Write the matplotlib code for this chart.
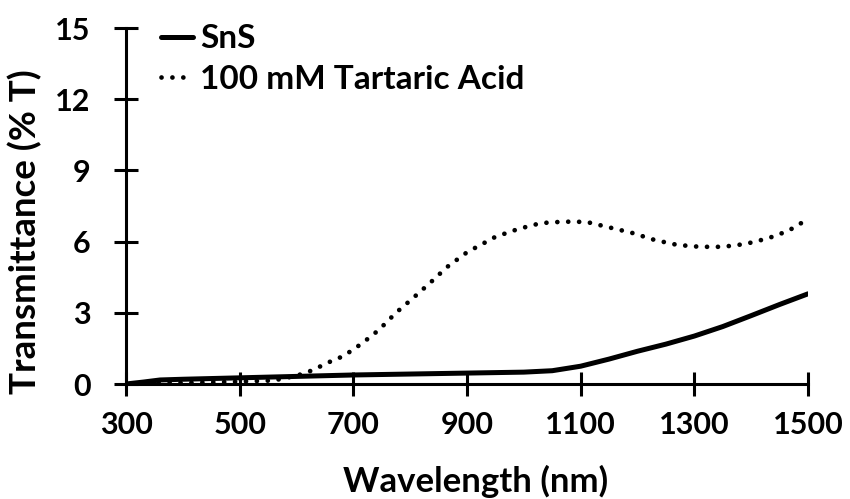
import matplotlib
matplotlib.use("Agg")
import matplotlib.pyplot as plt

plt.rcParams['font.family'] = ['Lato', 'DejaVu Sans']
plt.rcParams['font.weight'] = 'bold'

# SnS film, no additive
wl_sns = [300, 330, 360, 400, 500, 600, 700, 800, 900, 1000, 1050, 1100,
          1150, 1200, 1250, 1300, 1350, 1400, 1450, 1500]
t_sns = [0.0, 0.08, 0.17, 0.2, 0.26, 0.32, 0.38, 0.42, 0.46, 0.5, 0.56, 0.75,
         1.05, 1.38, 1.68, 2.02, 2.42, 2.88, 3.35, 3.8]

# SnS grown with 100 mM tartaric acid
wl_ta = [300, 400, 500, 560, 600, 620, 640, 660, 680, 700, 720, 745, 775,
         805, 835, 865, 900, 950, 990, 1030, 1070, 1110, 1150, 1190, 1230,
         1270, 1310, 1350, 1390, 1430, 1465, 1500]
t_ta = [0.0, 0.05, 0.1, 0.15, 0.35, 0.5, 0.72, 0.95, 1.15, 1.45, 1.8, 2.28,
        3.0, 3.62, 4.26, 4.93, 5.55, 6.2, 6.53, 6.78, 6.84, 6.83, 6.6, 6.37,
        6.07, 5.86, 5.78, 5.78, 5.9, 6.14, 6.45, 6.95]

xticks = [300, 500, 700, 900, 1100, 1300, 1500]
yticks = [0, 3, 6, 9, 12, 15]

fig = plt.figure(figsize=(8.5, 4.99), dpi=100)
ax = fig.add_axes([126/850, 115/499, 682/850, 356/499])

ax.plot(wl_sns, t_sns, color='black', lw=3.6, solid_capstyle='round',
        label='SnS')
ax.plot(wl_ta, t_ta, color='black', lw=3.4, linestyle=(0, (0.01, 2.3)),
        dash_capstyle='round', label='100 mM Tartaric Acid')

ax.set_xlim(300, 1500)
ax.set_ylim(0, 15)
ax.set_xticks(xticks)
ax.set_yticks(yticks)

for s in ['top', 'right']:
    ax.spines[s].set_visible(False)
for s in ['left', 'bottom']:
    ax.spines[s].set_linewidth(2.2)

ax.tick_params(axis='both', direction='inout', length=17, width=2.2,
               labelsize=22)
ax.tick_params(axis='x', pad=11)
ax.tick_params(axis='y', pad=17)
for lbl in ax.get_xticklabels() + ax.get_yticklabels():
    lbl.set_fontweight('bold')

ax.set_xlabel('Wavelength (nm)', fontsize=25, fontweight='bold')
ax.set_ylabel('Transmittance (% T)', fontsize=26.5, fontweight='bold')
ax.xaxis.set_label_coords(0.512, -0.273)
ax.xaxis.label.set_va('center')
ax.yaxis.set_label_coords(-0.148, 0.427)
ax.yaxis.label.set_va('center')

ax.legend(loc='upper left', bbox_to_anchor=(0.052, 1.01), frameon=False,
          borderaxespad=0, borderpad=0, handlelength=0.95,
          handletextpad=0.2, labelspacing=0.35,
          prop={'size': 24, 'weight': 'bold'})

fig.savefig('out.png', dpi=100)
